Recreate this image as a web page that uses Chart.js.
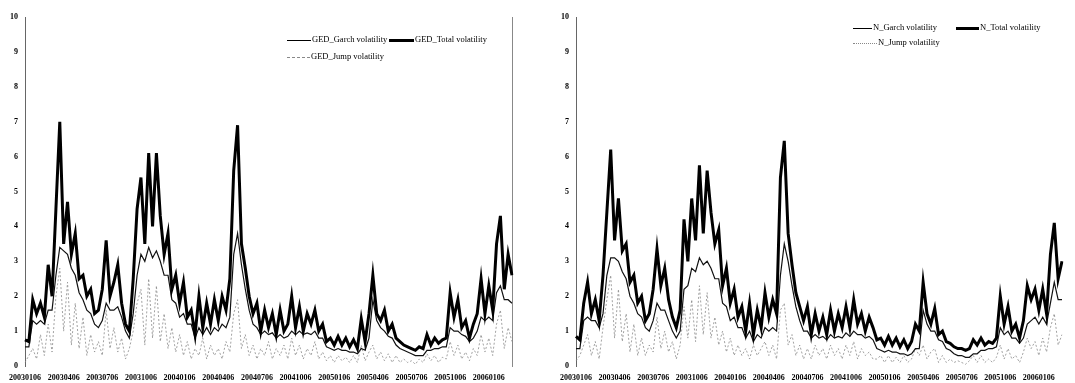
<!DOCTYPE html>
<html>
<head>
<meta charset="utf-8">
<script src="https://cdn.jsdelivr.net/npm/chart.js@4"></script>
<style>
body{margin:0;background:#fff;}
#wrap{position:relative;width:1075px;height:383px;background:#fff;overflow:hidden;}
.panel{position:absolute;top:0;height:383px;}
.item{position:absolute;height:12px;line-height:12px;font:8.5px "Liberation Serif",serif;color:#000;white-space:nowrap;}
.sw{position:absolute;top:6px;}
</style>
</head>
<body>
<div id="wrap">
  <div class="panel" style="left:0;width:540px"><canvas id="ged" width="540" height="383"></canvas></div>
  <div class="panel" style="left:540px;width:535px"><canvas id="nrm" width="535" height="383"></canvas></div>
</div>
<script>
// quarter tick labels, one every 10 points
const quarterLabels = ['20030106','20030406','20030706','20031006','20040106','20040406','20040706',
  '20041006','20050106','20050406','20050706','20051006','20060106'];

// GED model
const gedTotal = [0.75,0.7,1.9,1.5,1.8,1.4,2.9,2.0,4.5,7.0,
  3.5,4.7,3.2,3.8,2.5,2.6,2.0,2.2,1.5,1.6,
  2.2,3.6,2.0,2.4,2.9,1.8,1.2,1.0,2.5,4.5,
  5.4,3.5,6.1,4.0,6.1,4.3,3.2,3.8,2.2,2.6,
  1.8,2.4,1.4,1.6,0.9,2.0,1.1,1.8,1.2,1.9,
  1.3,2.0,1.6,2.5,5.6,6.9,3.5,2.8,2.0,1.5,
  1.8,1.0,1.6,1.1,1.5,0.9,1.6,1.0,1.2,2.0,
  1.1,1.7,1.0,1.5,1.2,1.6,1.0,1.2,0.7,0.8,
  0.6,0.85,0.6,0.8,0.55,0.75,0.5,1.35,0.7,1.5,
  2.6,1.5,1.3,1.6,1.0,1.2,0.8,0.7,0.6,0.55,
  0.5,0.45,0.55,0.5,0.9,0.6,0.8,0.65,0.75,0.8,
  2.1,1.4,1.9,1.1,1.3,0.8,1.2,1.5,2.5,1.5,
  2.3,1.6,3.5,4.3,2.2,3.2,2.6];
const gedGarch = [0.55,0.55,1.3,1.2,1.3,1.2,1.6,1.6,2.6,3.4,
  3.3,3.2,2.8,2.6,2.1,1.9,1.6,1.5,1.2,1.1,
  1.3,1.8,1.6,1.6,1.7,1.4,1.0,0.8,1.5,2.6,
  3.2,3.0,3.4,3.1,3.3,3.0,2.6,2.6,1.9,1.8,
  1.4,1.5,1.2,1.2,0.8,1.1,0.9,1.1,0.9,1.1,
  1.0,1.2,1.1,1.4,3.2,3.8,2.9,2.2,1.6,1.2,
  1.1,0.9,1.0,0.9,0.95,0.8,0.9,0.8,0.85,1.0,
  0.9,1.0,0.9,0.95,0.9,1.0,0.8,0.8,0.55,0.5,
  0.45,0.5,0.45,0.45,0.4,0.4,0.35,0.5,0.45,0.8,
  1.9,1.3,1.1,1.0,0.85,0.8,0.6,0.5,0.45,0.4,
  0.35,0.3,0.3,0.3,0.45,0.45,0.5,0.5,0.55,0.55,
  1.1,1.0,1.0,0.9,0.85,0.7,0.8,1.0,1.4,1.3,
  1.4,1.3,2.1,2.3,1.9,1.9,1.8];
const gedJump = [0.1,0.3,0.5,0.2,0.9,0.3,1.2,0.4,2.0,2.8,
  1.0,2.4,0.6,1.8,0.5,1.4,0.3,0.9,0.4,0.7,
  0.3,1.6,0.5,1.1,0.4,0.8,0.2,0.5,1.0,1.8,
  2.2,0.6,2.5,0.8,2.3,0.7,1.5,0.5,1.1,0.4,
  0.9,0.3,0.7,0.2,0.5,0.3,0.8,0.2,0.6,0.3,
  0.5,0.2,0.7,0.4,1.5,1.9,0.5,0.9,0.3,0.6,
  0.2,0.5,0.3,0.7,0.2,0.5,0.3,0.6,0.2,0.8,
  0.3,0.6,0.2,0.5,0.3,0.7,0.2,0.4,0.15,0.3,
  0.1,0.3,0.15,0.25,0.1,0.3,0.1,0.6,0.15,0.4,
  0.6,0.2,0.4,0.15,0.35,0.1,0.3,0.1,0.2,0.1,
  0.15,0.05,0.2,0.1,0.35,0.15,0.3,0.1,0.25,0.2,
  0.7,0.3,0.6,0.2,0.4,0.15,0.5,0.3,0.9,0.4,
  0.8,0.3,1.2,1.6,0.5,1.1,0.7];

// Normal model
const nTotal = [0.85,0.75,1.8,2.4,1.5,1.9,1.3,2.6,4.4,6.2,
  3.6,4.8,3.3,3.5,2.4,2.6,1.8,2.0,1.3,1.5,
  2.2,3.35,2.3,2.8,1.9,1.4,1.1,1.6,4.2,3.0,
  4.8,3.6,5.75,3.8,5.6,4.4,3.5,3.9,2.3,2.8,
  1.8,2.2,1.4,1.7,1.0,1.8,0.9,1.6,1.1,2.1,
  1.4,1.9,1.5,5.4,6.45,3.8,2.9,2.1,1.7,1.3,
  1.7,0.9,1.5,1.0,1.4,0.9,1.6,1.0,1.5,1.1,
  1.7,1.1,1.9,1.2,1.5,1.0,1.4,1.1,0.75,0.8,
  0.6,0.85,0.6,0.8,0.55,0.75,0.5,0.7,1.2,1.0,
  2.4,1.5,1.2,1.65,0.9,1.0,0.7,0.65,0.55,0.5,
  0.5,0.45,0.5,0.75,0.6,0.8,0.6,0.7,0.65,0.8,
  2.0,1.2,1.7,1.0,1.2,0.8,1.3,2.3,1.9,2.2,
  1.6,2.2,1.5,3.2,4.1,2.5,3.0];
const nGarch = [0.5,0.5,1.3,1.4,1.3,1.3,1.1,1.5,2.6,3.1,
  3.1,3.0,2.7,2.5,2.0,1.8,1.5,1.4,1.1,1.0,
  1.3,1.8,1.6,1.6,1.3,1.0,0.8,1.0,2.2,2.3,
  2.8,2.7,3.1,2.9,3.0,2.8,2.5,2.5,1.8,1.7,
  1.3,1.4,1.1,1.1,0.8,1.0,0.7,0.9,0.8,1.1,
  1.0,1.1,1.0,2.6,3.5,3.0,2.3,1.7,1.3,1.0,
  1.0,0.8,0.9,0.8,0.85,0.75,0.9,0.8,0.85,0.8,
  0.95,0.85,1.0,0.9,0.9,0.8,0.85,0.75,0.5,0.45,
  0.4,0.45,0.4,0.4,0.35,0.35,0.3,0.35,0.5,0.5,
  1.6,1.2,1.0,1.0,0.75,0.7,0.5,0.45,0.35,0.3,
  0.3,0.25,0.25,0.35,0.35,0.45,0.45,0.5,0.5,0.55,
  1.1,0.9,1.0,0.8,0.8,0.65,0.8,1.2,1.3,1.4,
  1.2,1.4,1.2,1.8,2.4,1.9,1.9];
const nJump = [0.15,0.3,0.6,0.9,0.3,0.7,0.2,1.1,1.9,2.6,
  0.8,2.2,0.7,1.5,0.4,1.2,0.3,0.8,0.3,0.6,
  0.4,1.4,0.5,1.0,0.4,0.7,0.2,0.6,1.7,0.8,
  1.9,0.7,2.3,0.9,2.1,0.8,1.4,0.6,1.0,0.4,
  0.8,0.3,0.6,0.3,0.5,0.2,0.6,0.3,0.5,0.7,
  0.3,0.6,0.2,1.6,1.8,0.6,0.9,0.3,0.6,0.2,
  0.5,0.2,0.6,0.3,0.5,0.2,0.6,0.3,0.5,0.2,
  0.6,0.3,0.7,0.2,0.5,0.3,0.4,0.2,0.2,0.3,
  0.1,0.3,0.1,0.25,0.1,0.3,0.1,0.2,0.5,0.3,
  0.6,0.2,0.4,0.5,0.1,0.3,0.1,0.2,0.1,0.15,
  0.1,0.05,0.15,0.3,0.1,0.3,0.1,0.2,0.1,0.25,
  0.6,0.2,0.5,0.2,0.3,0.1,0.4,0.8,0.5,0.7,
  0.3,0.8,0.4,1.1,1.5,0.6,0.9];

const serif = '"Liberation Serif", "Times New Roman", serif';

function makeChart(id, names, total, garch, jump, pad, rightBorder) {
    const labels = total.map((v, i) => i);
    const scales = {
        x: {
            type: 'category',
            grid: { display: false, drawTicks: false },
            border: { display: false },
            ticks: {
                autoSkip: false, maxRotation: 0, padding: 7,
                color: '#000', font: { family: serif, size: 8, weight: 'bold' },
                callback: (v, i) => i % 10 === 0 ? quarterLabels[i / 10] : null
            },
            afterFit: s => { s.height = 17; }
        },
        y: {
            min: 0, max: 10,
            grid: { display: false, drawTicks: false },
            border: { display: true, color: '#666', width: 1, dash: [1, 2] },
            ticks: { stepSize: 1, padding: 7, color: '#000', font: { family: serif, size: 8, weight: 'bold' } },
            afterFit: s => { s.width = 25; }
        }
    };
    if (rightBorder) {
        scales.y2 = {
            position: 'right', min: 0, max: 10,
            grid: { display: false, drawTicks: false },
            border: { display: true, color: '#888', width: 1, dash: [1, 2] },
            ticks: { display: false },
            afterFit: s => { s.width = 0; }
        };
    }
    return new Chart(document.getElementById(id), {
        type: 'line',
        data: {
            labels: labels,
            datasets: [
                { label: names[1], data: total, borderColor: '#000', borderWidth: 3, pointRadius: 0, tension: 0 },
                { label: names[0], data: garch, borderColor: '#111', borderWidth: 1.2, pointRadius: 0, tension: 0 },
                { label: names[2], data: jump, borderColor: '#8a8a8a', borderWidth: 0.8, borderDash: [2, 2], pointRadius: 0, tension: 0 }
            ]
        },
        options: {
            responsive: false,
            animation: false,
            layout: { padding: pad },
            plugins: { legend: { display: false }, tooltip: { enabled: false } },
            scales: scales
        }
    });
}

makeChart('ged', ['GED_Garch volatility', 'GED_Total volatility', 'GED_Jump volatility'],
    gedTotal, gedGarch, gedJump, { top: 17, left: 0, right: 28, bottom: 0 }, true);
makeChart('nrm', ['N_Garch volatility', 'N_Total volatility', 'N_Jump volatility'],
    nTotal, nGarch, nJump, { top: 17, left: 11, right: 13, bottom: 0 }, false);

// legends sit inside the plot areas, like the original
const legendItems = [
    { text: 'GED_Garch volatility', x: 287, y: 40, sw: 24, style: '1px solid #000' },
    { text: 'GED_Total volatility', x: 389, y: 40, sw: 25, style: '3px solid #000' },
    { text: 'GED_Jump volatility', x: 287, y: 57, sw: 23, style: '1px dashed #888' },
    { text: 'N_Garch volatility', x: 853, y: 28, sw: 19, style: '1px solid #000' },
    { text: 'N_Total volatility', x: 956, y: 28, sw: 23, style: '3px solid #000' },
    { text: 'N_Jump volatility', x: 853, y: 43, sw: 24, style: '1px dotted #888' }
];
const wrap = document.getElementById('wrap');
legendItems.forEach(it => {
    const d = document.createElement('div');
    d.className = 'item';
    d.style.left = it.x + 'px';
    d.style.top = (it.y - 6) + 'px';
    d.style.paddingLeft = (it.sw + 1) + 'px';
    const s = document.createElement('span');
    s.className = 'sw';
    s.style.left = '0px';
    s.style.width = it.sw + 'px';
    s.style.borderTop = it.style;
    s.style.marginTop = it.style.startsWith('3px') ? '-1px' : '0px';
    d.appendChild(s);
    d.appendChild(document.createTextNode(it.text));
    wrap.appendChild(d);
});
</script>
</body>
</html>
